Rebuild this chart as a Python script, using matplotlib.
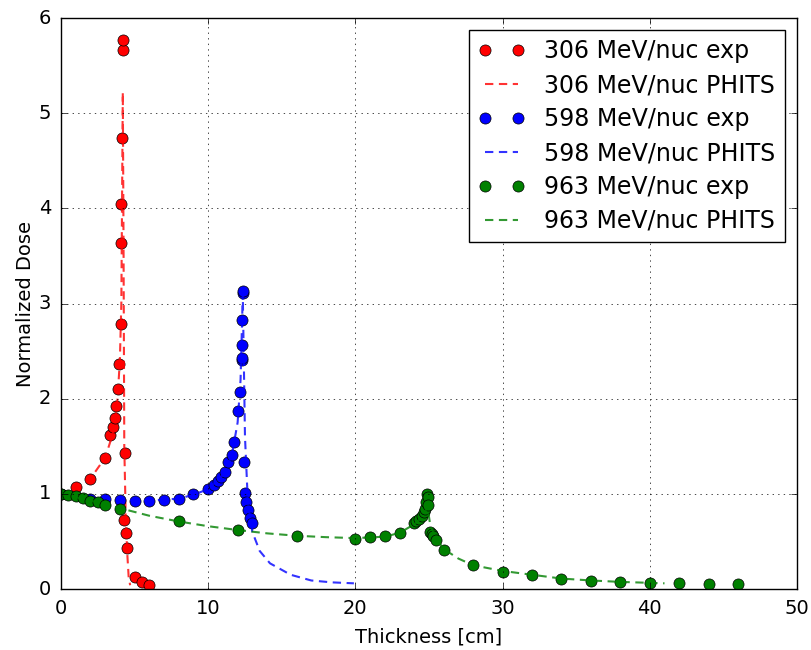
import matplotlib
matplotlib.use("Agg")
import matplotlib.pyplot as plt

# 306 MeV/nuc
x306_exp = [1.0, 2.0, 2.97, 3.35, 3.55, 3.65, 3.75, 3.85, 3.95, 4.05, 4.1, 4.1, 4.15, 4.2, 4.2,
            4.35, 4.3, 4.4, 4.5, 5.0, 5.5, 6.0]
y306_exp = [1.07, 1.16, 1.38, 1.62, 1.70, 1.80, 1.92, 2.10, 2.36, 2.78, 3.64, 4.05, 4.74, 5.66, 5.77,
            1.43, 0.73, 0.59, 0.43, 0.13, 0.07, 0.04]
x306_phits = [0.0, 1.0, 2.0, 3.0, 3.5, 3.8, 4.0, 4.1, 4.2, 4.25, 4.3, 4.4, 4.5, 4.6, 4.7]
y306_phits = [1.0, 1.06, 1.16, 1.38, 1.62, 1.90, 2.40, 3.00, 5.22, 3.60, 1.50, 0.75, 0.38, 0.12, 0.04]

# 598 MeV/nuc
x598_exp = [0.0, 2.0, 3.0, 4.0, 5.0, 5.95, 7.0, 8.0, 9.0, 10.0, 10.42, 10.69, 10.9, 11.14, 11.37,
            11.6, 11.73, 12.05, 12.14, 12.32, 12.3, 12.27, 12.27, 12.34, 12.36,
            12.43, 12.5, 12.6, 12.73, 12.84, 12.96]
y598_exp = [1.0, 0.95, 0.95, 0.94, 0.93, 0.93, 0.94, 0.95, 1.0, 1.05, 1.09, 1.13, 1.18, 1.23, 1.33,
            1.41, 1.54, 1.87, 2.07, 2.41, 2.43, 2.56, 2.83, 3.11, 3.13,
            1.34, 1.01, 0.91, 0.83, 0.75, 0.69]
x598_phits = [0.0, 2.0, 4.0, 6.0, 8.0, 9.0, 10.0, 11.0, 11.6, 12.0, 12.2, 12.35, 12.5, 12.7, 13.0,
              13.5, 14.2, 15.6, 17.0, 18.4, 19.9]
y598_phits = [1.0, 0.96, 0.94, 0.93, 0.95, 0.99, 1.05, 1.20, 1.40, 1.75, 2.20, 3.10, 1.60, 0.90, 0.60,
              0.40, 0.27, 0.15, 0.09, 0.07, 0.06]

# 963 MeV/nuc
x963_exp = [0.0, 0.45, 1.0, 1.5, 2.0, 2.5, 3.0, 4.0, 8.0, 12.0, 16.0, 20.0, 21.0, 22.0, 23.0,
            24.0, 24.1, 24.3, 24.5, 24.65, 24.75, 24.8, 24.85, 24.9, 24.96,
            25.07, 25.2, 25.3, 25.45, 26.0, 28.0, 30.0, 32.0, 34.0, 36.0, 38.0, 40.0, 42.0, 44.0, 46.0]
y963_exp = [1.0, 0.99, 0.975, 0.955, 0.93, 0.91, 0.885, 0.84, 0.71, 0.62, 0.56, 0.53, 0.55, 0.56, 0.59,
            0.69, 0.71, 0.74, 0.77, 0.81, 0.84, 0.91, 1.0, 0.97, 0.88,
            0.6, 0.58, 0.56, 0.52, 0.41, 0.25, 0.18, 0.15, 0.11, 0.085, 0.075, 0.065, 0.062, 0.052, 0.05]
x963_phits = [0.0, 2.0, 4.0, 6.0, 8.0, 10.0, 12.0, 14.0, 16.0, 18.0, 20.0, 22.0, 23.0, 24.0, 24.5,
              24.9, 25.1, 25.5, 26.0, 27.0, 28.0, 30.0, 32.0, 34.0, 36.0, 38.0, 41.0]
y963_phits = [1.0, 0.93, 0.85, 0.77, 0.71, 0.66, 0.62, 0.585, 0.56, 0.545, 0.535, 0.55, 0.59, 0.68, 0.75,
              0.86, 0.66, 0.53, 0.42, 0.32, 0.25, 0.19, 0.15, 0.11, 0.09, 0.075, 0.06]

plt.style.use("classic")
fig = plt.figure(figsize=(8.11, 6.5), dpi=100, facecolor="white")
ax = fig.add_axes([0.0752, 0.0938, 0.9075, 0.8785])

dash = dict(linewidth=1.5, dashes=(6, 4), alpha=0.8)
ax.plot(x306_exp, y306_exp, "ro", markersize=8, label="306 MeV/nuc exp")
ax.plot(x306_phits, y306_phits, "r--", label="306 MeV/nuc PHITS", **dash)
ax.plot(x598_exp, y598_exp, "bo", markersize=8, label="598 MeV/nuc exp")
ax.plot(x598_phits, y598_phits, "b--", label="598 MeV/nuc PHITS", **dash)
ax.plot(x963_exp, y963_exp, "go", markersize=8, label="963 MeV/nuc exp")
ax.plot(x963_phits, y963_phits, "g--", label="963 MeV/nuc PHITS", **dash)

ax.set_xlim(0, 50)
ax.set_ylim(0, 6)
ax.set_xlabel("Thickness [cm]", fontsize=14, labelpad=7)
ax.set_ylabel("Normalized Dose", fontsize=14, labelpad=3)
ax.tick_params(labelsize=14, pad=7)
ax.grid(True)
ax.legend(loc="upper right", fontsize=17, numpoints=2, labelspacing=0.42)

fig.savefig("out.png", dpi=100, facecolor="white")
